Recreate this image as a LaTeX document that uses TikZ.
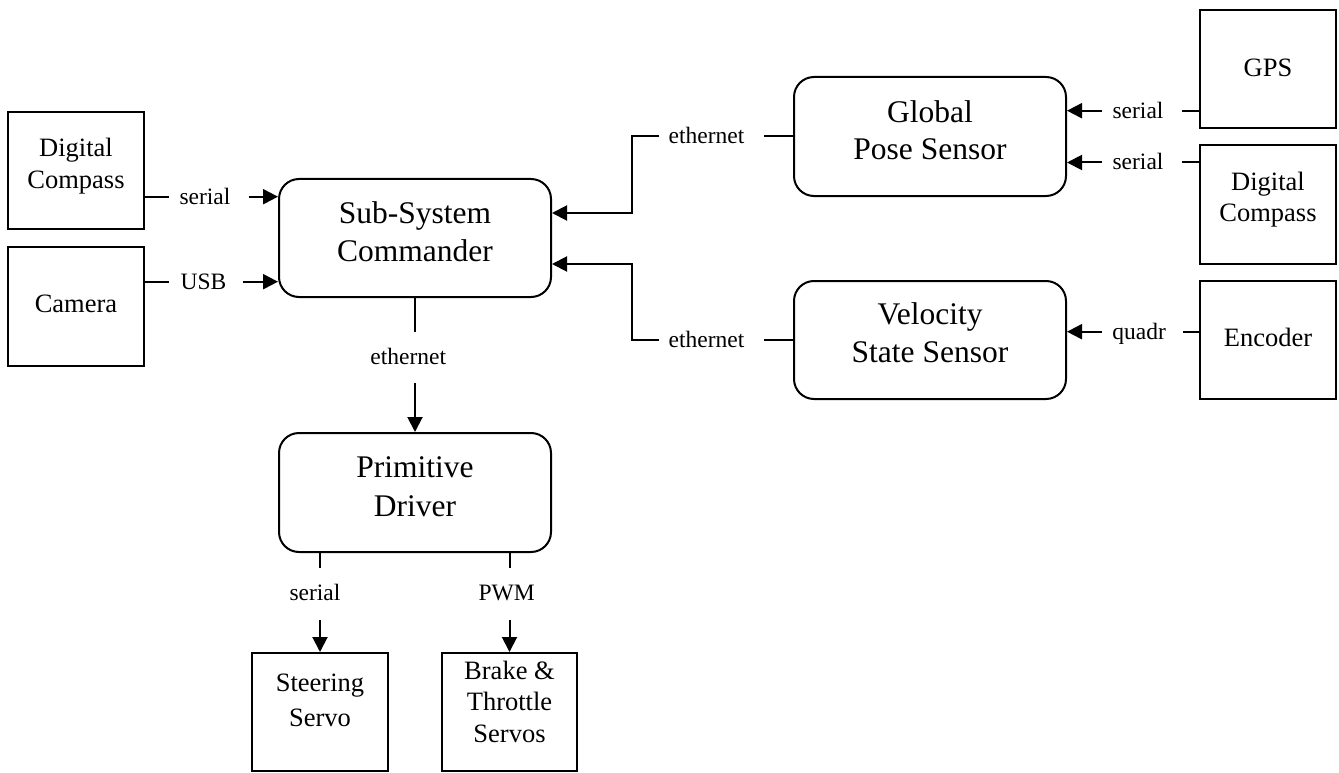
\documentclass[tikz,border=0pt]{standalone}
\usepackage{fontspec}
\setmainfont{Liberation Serif}
\usetikzlibrary{arrows.meta}
\tikzset{
  sqbox/.style={draw, line width=2pt, minimum width=136pt, minimum height=118pt, inner sep=0pt},
  rbox/.style={draw, line width=2pt, rounded corners=20pt, minimum width=272pt, minimum height=118pt, inner sep=0pt},
  bigtxt/.style={font=\fontsize{31.5}{37.5}\selectfont, align=center, inner sep=0pt},
  midtxt/.style={font=\fontsize{26.5}{31.5}\selectfont, align=center, inner sep=0pt},
  lbl/.style={font=\fontsize{23.5}{28}\selectfont, inner sep=0pt, text height=15pt, text depth=0pt},
  conn/.style={line width=2pt},
  arr/.style={line width=2pt, -{Triangle[length=15pt,width=15pt]}},
}
\begin{document}
\begin{tikzpicture}[x=1pt, y=-1pt]
\useasboundingbox (0,0) rectangle (1339,773);
% boxes
\node[sqbox, minimum height=117pt] (dc1) at (76,170.5) {};
\node[sqbox, minimum height=119pt] (cam) at (76,306.5) {};
\node[rbox] (ssc) at (415,238) {};
\node[rbox, minimum height=119pt] (pd) at (415,492.5) {};
\node[rbox, minimum height=119pt] (gpsens) at (930,136.5) {};
\node[rbox] (vss) at (930,340) {};
\node[sqbox, minimum width=135.5pt] (gps) at (1268,69) {};
\node[sqbox, minimum width=135.5pt, minimum height=119pt] (dc2) at (1268,204.5) {};
\node[sqbox, minimum width=135.5pt] (enc) at (1268,340) {};
\node[sqbox, minimum width=136.6pt] (steer) at (320,712) {};
\node[sqbox, minimum width=135.6pt] (brake) at (509.5,712) {};
% box texts
\node[midtxt] (dc1t) at (76,166) {Digital\\Compass};
\node[midtxt] (camt) at (76,303.7) {Camera};
\node[bigtxt] (ssct) at (415,231.6) {Sub-System\\Commander};
\node[bigtxt] (pdt) at (415,486.8) {Primitive\\[1.5pt]Driver};
\node[bigtxt] (gpsenst) at (930,130) {Global\\Pose Sensor};
\node[bigtxt] (vsst) at (930,332.6) {Velocity\\State Sensor};
\node[midtxt] (gpst) at (1268,68) {GPS};
\node[midtxt] (dc2t) at (1268,199.7) {Digital\\Compass};
\node[midtxt] (enct) at (1268,337.6) {Encoder};
\node[midtxt] (steert) at (320,700.2) {Steering\\[3.5pt]Servo};
\node[midtxt] (braket) at (509.5,701.8) {Brake \&\\Throttle\\Servos};
% labels
\node[lbl] (l1) at (205,196.7) {serial};
\node[lbl] (l2) at (203.5,281.7) {USB};
\node[lbl] (l3) at (408.3,356.5) {ethernet};
\node[lbl] (l4) at (315,592.5) {serial};
\node[lbl] (l5) at (506.7,592.5) {PWM};
\node[lbl] (l6) at (1138,110.7) {serial};
\node[lbl] (l7) at (1138,162.5) {serial};
\node[lbl] (l8) at (1139.2,331.7) {quadr};
\node[lbl] (l9) at (706.5,136) {ethernet};
\node[lbl] (l10) at (706.5,340) {ethernet};
% connectors
\draw[conn, shorten >=10pt] (dc1.east |- l1) -- (l1.west);
\draw[arr, shorten <=18pt] (l1.east) -- (ssc.west |- l1);
\draw[conn, shorten >=11pt] (cam.east |- l2) -- (l2.west);
\draw[arr, shorten <=16pt] (l2.east) -- (ssc.west |- l2);
\draw[conn, shorten >=17.3pt] (ssc.south) -- (ssc.south |- l3.north);
\draw[arr, shorten <=19pt] (ssc.south |- l3.south) -- (pd.north);
\draw[conn, shorten >=16.7pt] (steer.north |- pd.south) -- (steer.north |- l4.north);
\draw[arr, shorten <=20pt] (steer.north |- l4.south) -- (steer.north);
\draw[conn, shorten >=16.7pt] (brake.north |- pd.south) -- (brake.north |- l5.north);
\draw[arr, shorten <=20pt] (brake.north |- l5.south) -- (brake.north);
\draw[conn, shorten >=18.3pt] (gps.west |- l6) -- (l6.east);
\draw[arr, shorten <=10.6pt] (l6.west) -- (gpsens.east |- l6);
\draw[conn, shorten >=18.3pt] (dc2.west |- l7) -- (l7.east);
\draw[arr, shorten <=10.6pt] (l7.west) -- (gpsens.east |- l7);
\draw[conn, shorten >=16.5pt] (enc.west |- l8) -- (l8.east);
\draw[arr, shorten <=10.5pt] (l8.west) -- (vss.east |- l8);
\draw[conn, shorten >=19pt] (gpsens.west |- l9) -- (l9.east);
\draw[arr, shorten <=9pt] (l9.west) -- ++(-36.3,0) |- ([yshift=25pt]ssc.east);
\draw[conn, shorten >=19pt] (vss.west |- l10) -- (l10.east);
\draw[arr, shorten <=9pt] (l10.west) -- ++(-36.3,0) |- ([yshift=-26pt]ssc.east);
\end{tikzpicture}
\end{document}
